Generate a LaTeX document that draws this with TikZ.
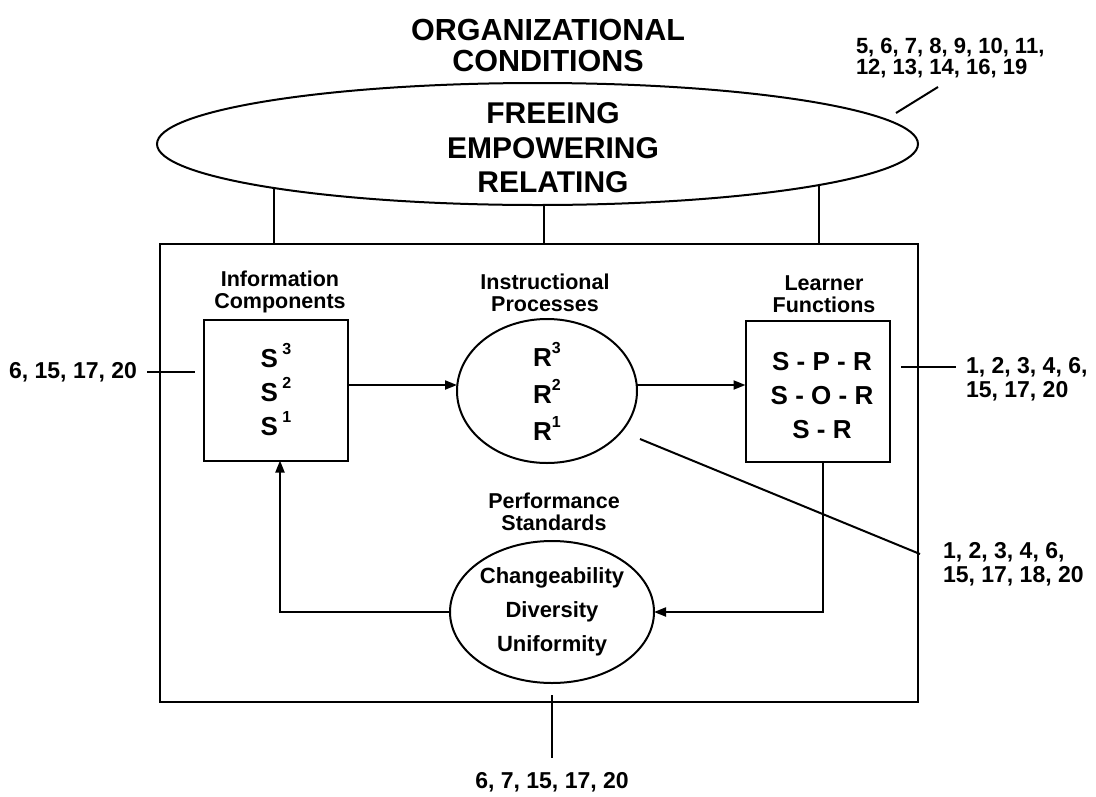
\documentclass[tikz,border=0pt]{standalone}
\usepackage{fontspec}
\setmainfont{Liberation Sans}
\usetikzlibrary{arrows.meta,shapes.geometric}
\newcommand{\mysup}[1]{\raisebox{0.5em}{\fontsize{16}{16}\bfseries\selectfont #1}}
\begin{document}
\begin{tikzpicture}[x=1pt,y=-1pt,
  line width=2pt,
  every node/.style={inner sep=0pt, outer sep=0pt},
  arr/.style={-{Triangle[length=12pt,width=9pt]}},
  bigtxt/.style={font=\fontsize{30.5}{31}\bfseries\selectfont, align=center},
  orgtxt/.style={font=\fontsize{30}{34.5}\bfseries\selectfont, align=center},
  headtxt/.style={font=\fontsize{21.5}{22.5}\bfseries\selectfont, align=center},
  symtxt/.style={font=\fontsize{26}{34}\bfseries\selectfont, align=center},
  rtxt/.style={font=\fontsize{26}{37}\bfseries\selectfont, align=center},
  stdtxt/.style={font=\fontsize{22}{34}\bfseries\selectfont, align=center},
  numtxt/.style={font=\fontsize{23}{24}\bfseries\selectfont, align=left},
  sqbox/.style={draw, minimum width=144pt, minimum height=141pt},
  oval/.style={draw, ellipse}]
\useasboundingbox (0,0) rectangle (1096,796);

% top
\node[bigtxt] (title) at (548,45) {ORGANIZATIONAL\\CONDITIONS};
\node[oval, minimum width=761pt, minimum height=122pt] (org) at (537.5,144) {};
\node[orgtxt] (orgtext) at (553,148) {FREEING\\EMPOWERING\\RELATING};
\node[numtxt, font=\fontsize{22}{21.5}\bfseries\selectfont, anchor=north west] (t1) at (856,38) {5, 6, 7, 8, 9, 10, 11,\\12, 13, 14, 16, 19};
\coordinate (t1a) at (896,113);
\draw (t1a) -- ([xshift=82pt,yshift=-49pt]t1.north west);

% main frame
\node[draw, minimum width=758pt, minimum height=458pt] (main) at (539,473) {};
\coordinate (o1) at (274,188);
\coordinate (o2) at (544,205);
\coordinate (o3) at (819,185);
\draw (o1) -- (o1 |- main.north);
\draw (o2) -- (o2 |- main.north);
\draw (o3) -- (o3 |- main.north);

% information components
\node[headtxt] (infolab) at (280,292) {Information\\Components};
\node[sqbox, symtxt] (info) at (276,390) {S\,\mysup{3}\\S\,\mysup{2}\\S\,\mysup{1}};

% instructional processes
\node[headtxt] (instrlab) at (545,293) {Instructional\\Processes};
\node[oval, minimum width=180pt, minimum height=144pt, rtxt] (instr) at (547,391) {R\mysup{3}\\R\mysup{2}\\R\mysup{1}};

% learner functions
\node[headtxt] (learnlab) at (824,294) {Learner\\Functions};
\node[sqbox] (learn) at (817.5,391.5) {};
\node[symtxt] (learntxt) at (822,396) {S - P - R\\S - O - R\\S - R};

% performance standards
\node[headtxt] (perflab) at (554,512) {Performance\\Standards};
\node[oval, minimum width=180pt, minimum height=142pt, stdtxt] (perf) at (552,612) {Changeability\\Diversity\\Uniformity};

% arrows
\draw[arr] ([yshift=5pt]info.east) -- ([yshift=5pt]info.east -| instr.west);
\draw[arr] ([yshift=6pt]instr.east) -- ([yshift=6pt]instr.east -| learn.west);
\draw[arr] ([xshift=5pt]learn.south) |- (perf.east);
\draw[arr] (perf.west) -| ([xshift=4pt]info.south);

% reference labels
\node[numtxt, anchor=east] (l1) at (137,372) {6, 15, 17, 20};
\draw ([xshift=10pt]l1.east) -- ([xshift=-9pt]info.west |- l1.east);

\node[numtxt, anchor=north west] (r1) at (966,357) {1, 2, 3, 4, 6,\\15, 17, 20};
\coordinate (r1c) at (901,367);
\draw (r1c) -- ([xshift=-10pt]r1c -| r1.west);

\node[numtxt, anchor=north west] (r2) at (943,542.5) {1, 2, 3, 4, 6,\\15, 17, 18, 20};
\coordinate (d1) at (640,439);
\draw (d1) -- ([xshift=-23pt,yshift=-11.5pt]r2.north west);

\node[numtxt, anchor=north] (b1) at (552,772.5) {6, 7, 15, 17, 20};
\draw ([yshift=-12pt]perf.south) -- ([yshift=14.5pt]b1.north);
\end{tikzpicture}
\end{document}
